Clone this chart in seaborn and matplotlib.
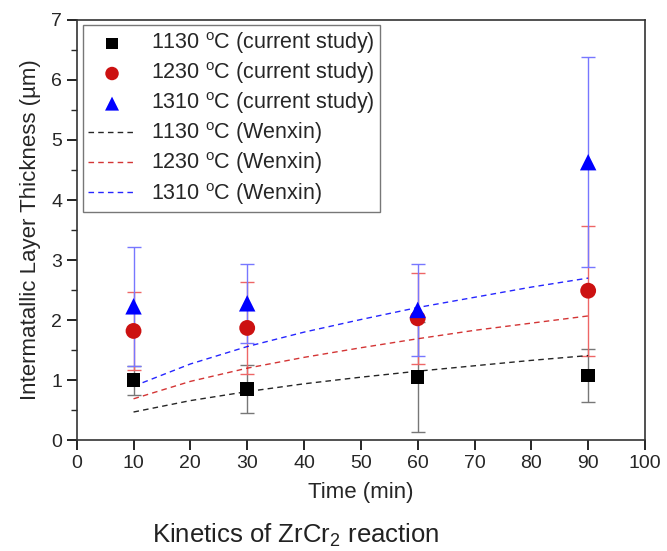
import matplotlib
matplotlib.use('Agg')
import matplotlib.pyplot as plt
import pandas as pd
import seaborn as sns
from matplotlib.ticker import MultipleLocator

# measured layer thickness (current study)
times = [10, 30, 60, 90]
thick_1130 = [1.00, 0.85, 1.05, 1.08]
err_1130 = [0.24, 0.40, 0.92, 0.44]
thick_1230 = [1.82, 1.87, 2.03, 2.49]
err_1230 = [0.65, 0.77, 0.76, 1.08]
thick_1310 = [2.23, 2.28, 2.17, 4.63]
err_1310 = [0.99, 0.66, 0.77, 1.75]

# Wenxin curves
w_times = [10, 20, 30, 40, 50, 60, 70, 80, 90]
wenxin_1130 = [0.47, 0.66, 0.81, 0.94, 1.05, 1.15, 1.24, 1.33, 1.41]
wenxin_1230 = [0.69, 0.98, 1.20, 1.38, 1.54, 1.69, 1.83, 1.95, 2.07]
wenxin_1310 = [0.90, 1.27, 1.56, 1.80, 2.01, 2.21, 2.38, 2.55, 2.70]

sns.set_style('ticks')
plt.rcParams['font.family'] = ['Liberation Sans', 'DejaVu Sans']
plt.rcParams['mathtext.fontset'] = 'custom'
plt.rcParams['mathtext.rm'] = 'Liberation Sans'

fig = plt.figure(figsize=(6.67, 5.51), dpi=100)
ax = fig.add_axes([0.115, 0.201, 0.852, 0.763])

deg = r'$^{\mathrm{o}}$C'
series = [
    ('1130', thick_1130, err_1130, wenxin_1130, 'black', '#777777', 's', 95),
    ('1230', thick_1230, err_1230, wenxin_1230, '#cc1111', '#ee6666', 'o', 130),
    ('1310', thick_1310, err_1310, wenxin_1310, '#0000ff', '#7777ff', '^', 140),
]

# error bars first so the markers sit on top
for temp, y, e, w, col, ecol, mk, sz in series:
    ax.errorbar(times, y, yerr=e, fmt='none', ecolor=ecol, elinewidth=1,
                capsize=5, capthick=1, zorder=2)

for temp, y, e, w, col, ecol, mk, sz in series:
    df = pd.DataFrame({'t': times, 'h': y})
    sns.scatterplot(data=df, x='t', y='h', marker=mk, s=sz, color=col,
                    edgecolor='none', ax=ax, zorder=3,
                    label=f'{temp} {deg} (current study)')

for temp, y, e, w, col, ecol, mk, sz in series:
    dw = pd.DataFrame({'t': w_times, 'h': w})
    sns.lineplot(data=dw, x='t', y='h', color=col, linestyle=(0, (4, 3)),
                 linewidth=1, ax=ax, zorder=2, alpha=0.85,
                 label=f'{temp} {deg} (Wenxin)')

ax.set_xlim(0, 100)
ax.set_ylim(0, 7)
ax.xaxis.set_major_locator(MultipleLocator(10))
ax.yaxis.set_major_locator(MultipleLocator(1))
ax.yaxis.set_minor_locator(MultipleLocator(0.5))
ax.tick_params(axis='both', which='major', direction='out', length=7,
               width=1.2, labelsize=14, color='black')
ax.tick_params(axis='y', which='minor', direction='out', length=4, width=1)
for sp in ax.spines.values():
    sp.set_visible(True)
    sp.set_linewidth(1.2)
    sp.set_color('#333333')

ax.set_xlabel('Time (min)', fontsize=16, labelpad=7)
ax.set_ylabel('Intermatallic Layer Thickness (µm)', fontsize=16, labelpad=7)

leg = ax.legend(loc='upper left', fontsize=15.5, frameon=True, fancybox=False,
                edgecolor='#555555', handlelength=2.2, borderpad=0.25,
                labelspacing=0.2, handletextpad=0.7, markerscale=0.85,
                borderaxespad=0, bbox_to_anchor=(0.011, 0.988))
leg.get_frame().set_linewidth(1)

fig.text(0.444, 0.029, 'Kinetics of ZrCr$_2$ reaction', ha='center',
         va='center', fontsize=18.5, color='#222222')

fig.savefig('out.png', dpi=100)
